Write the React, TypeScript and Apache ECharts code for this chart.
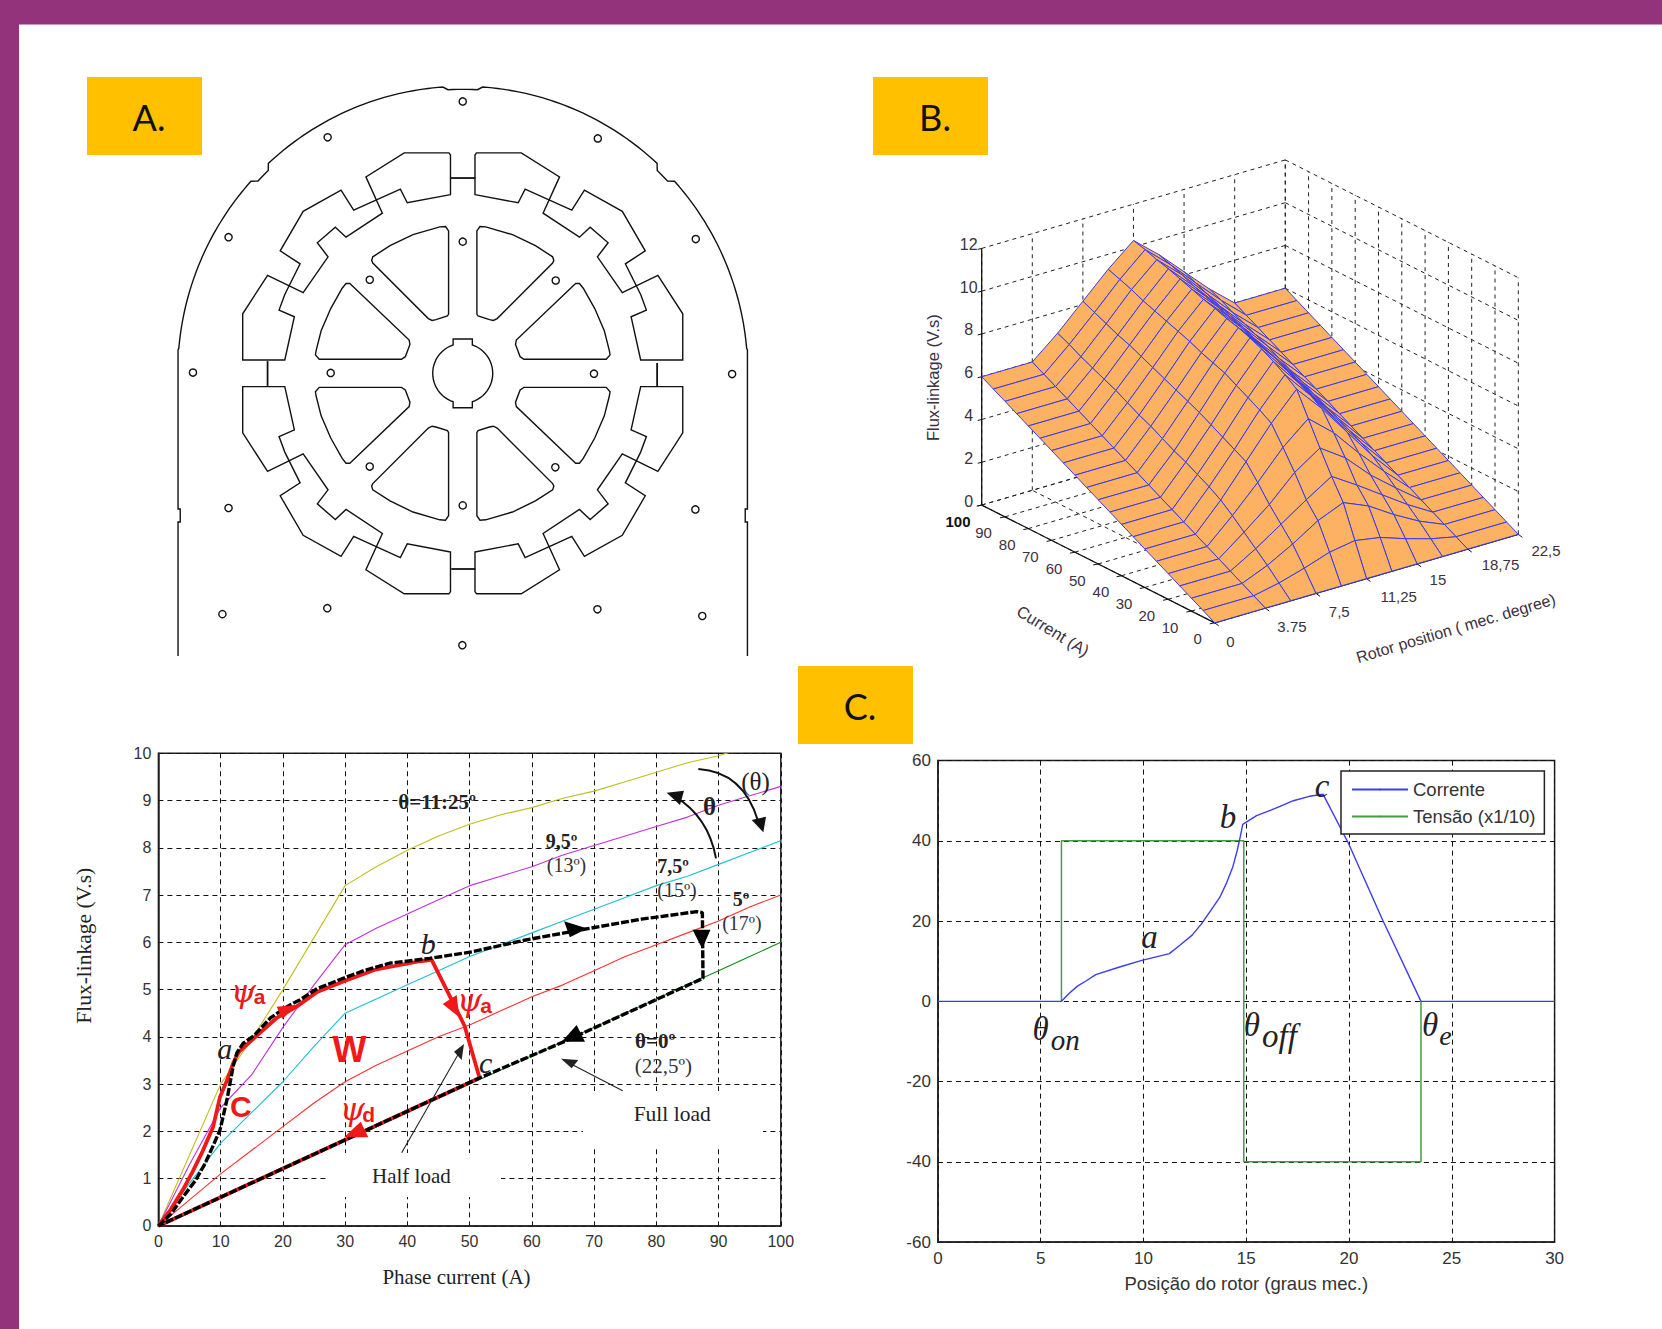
import React, { useEffect, useRef } from "react";
import * as echarts from "echarts";

// ---------- DATA ----------
const currentTicks = [0, 5, 10, 15, 20, 25, 30, 35, 40, 45, 50, 55, 60, 65, 70, 75, 80, 85, 90, 95, 100];
const flux0 = [0, 0.3, 0.6, 0.9, 1.2, 1.5, 1.8, 2.1, 2.4, 2.7, 3, 3.3, 3.6, 3.9, 4.2, 4.5, 4.8, 5.1, 5.4, 5.7, 6];
const flux5 = [0, 0.55, 1.1, 1.6, 2.1, 2.6, 3.05, 3.4, 3.7, 4, 4.25, 4.55, 4.85, 5.1, 5.4, 5.7, 5.95, 6.2, 6.45, 6.75, 7];
const flux75 = [0, 0.9, 1.75, 2.4, 3.05, 3.8, 4.5, 4.8, 5.1, 5.4, 5.7, 5.95, 6.2, 6.45, 6.7, 6.95, 7.2, 7.4, 7.65, 7.9, 8.15];
const flux95 = [0, 1.3, 2.5, 3.2, 4.2, 5.1, 5.95, 6.3, 6.6, 6.9, 7.2, 7.4, 7.6, 7.85, 8.05, 8.25, 8.45, 8.65, 8.9, 9.1, 9.3];
const flux1125 = [0, 1.5, 3, 3.95, 5, 6.1, 7.2, 7.6, 7.95, 8.25, 8.5, 8.7, 8.85, 9.05, 9.2, 9.4, 9.6, 9.8, 9.95, 10.15, 10.3];
const surfaceThetas = [0, 3.75, 5.625, 7.5, 9.375, 11.25, 13.125, 15, 16.875, 18.75, 22.5];
const surfaceColumns = [flux0, flux0, flux5, flux75, flux95, flux1125, flux95, flux75, flux5, flux0, flux0];

const fullLoadLoop = [[0, 0], [2, 0.25], [4, 0.62], [6, 0.97], [7.5, 1.32], [8.8, 1.7], [9.9, 2.03], [11, 2.66], [12, 3.37], [12.6, 3.66], [13.6, 3.86], [15.3, 4.02], [18, 4.4], [20.8, 4.65], [22.7, 4.78], [25.5, 5.02], [29.7, 5.24], [33, 5.4], [37.2, 5.56], [43.6, 5.66], [50.4, 5.8], [59, 6.05], [69, 6.29], [77.6, 6.49], [86.5, 6.65], [87.4, 6.63], [87.5, 5.24], [65.2, 3.9], [51.6, 3.13], [0, 0]];
const halfLoadLoop = [[0, 0], [2, 0.35], [4, 0.78], [5.5, 1.15], [7, 1.55], [8.8, 2.1], [9.9, 2.73], [11.06, 3.09], [12, 3.44], [12.6, 3.6], [13, 3.69], [16, 4.05], [19, 4.4], [22.2, 4.64], [25.5, 4.95], [29.7, 5.17], [34.8, 5.42], [42, 5.6], [43.9, 5.63], [48, 4.55], [49.2, 4.23], [51.6, 3.13], [0, 0]];

const rotorPosition = [0, 6.01, 6.39, 6.79, 7.24, 7.68, 8.8, 9.92, 11.26, 11.8, 12.37, 12.82, 13.27, 13.71, 14.05, 14.34, 14.56, 14.72, 14.83, 15.5, 16.17, 16.73, 17.29, 18.07, 18.74, 19.97, 21.64, 23.5, 30];
const corrente = [0, 0, 2, 3.8, 5.2, 6.65, 8.5, 10.2, 11.9, 14.1, 16.5, 19.3, 22.6, 25.9, 29.6, 33.4, 37.6, 41.3, 44.1, 46.3, 47.6, 48.8, 50, 51.1, 51.6, 39.4, 20.2, 0, 0];
const tensao = [[6.01, 0], [6.01, 40], [14.88, 40], [14.88, -40], [23.5, -40], [23.5, 0]];

const surfaceThetaLabels = [["0", 740, 1455], ["3.75", 878, 1412], ["7,5", 984, 1368], ["11,25", 1117, 1325], ["15", 1205, 1277], ["18,75", 1345, 1232], ["22,5", 1447, 1192]];
const surfaceCurrentLabels = [["90", 187, 1140], ["80", 240, 1175], ["70", 292, 1210], ["60", 345, 1243], ["50", 397, 1278], ["40", 450, 1312], ["30", 502, 1345], ["20", 553, 1380], ["10", 605, 1415], ["0", 667, 1448]];
const surfaceFluxTicks = [0, 2, 4, 6, 8, 10, 12];
const floorThetaTicks = [0, 3.75, 7.5, 11.25, 15, 18.75, 22.5];
const floorCurrentTicks = [0, 10, 20, 30, 40, 50, 60, 70, 80, 90, 100];

// ---------- HELPERS ----------
const map = (cx: number, cy: number, cw: number, ch: number) => (px: number, py: number): number[] => [cx + (px * cw) / 1568, cy + (py * ch) / 1568];
const c1 = map(60, 720, 760, 600);
const c2 = map(880, 730, 720, 590);
const c3 = map(900, 140, 700, 540);
const c4 = map(170, 80, 600, 580);
const z5 = (px: number, py: number) => [340 + px / 3, 1000 + py / 3];
const z6 = (px: number, py: number) => [200 + px / 3, 900 + py / 3];
const z7 = (px: number, py: number) => [620 + px / 3, 750 + py / 3];

const SERIF = "Liberation Serif";
const SANS = "Liberation Sans";

const T = (text: string, p: number[], size: number, o: any = {}) => ({
  type: "text", x: p[0], y: p[1], rotation: o.rot || 0, z: 10, silent: true,
  style: {
    text, fontSize: size, fontFamily: o.family || SERIF, fontWeight: o.weight || "normal", fontStyle: o.style || "normal",
    fill: o.color || "#222", align: o.align || "center", verticalAlign: "middle",
  },
});
const poly = (pts: number[][], fill: string) => ({ type: "polygon", z: 10, silent: true, shape: { points: pts }, style: { fill, stroke: "none" } });
const L = (a: number[], b: number[], o: any = {}) => ({
  type: "line", z: o.z ?? 0, silent: true, shape: { x1: a[0], y1: a[1], x2: b[0], y2: b[1] },
  style: { stroke: o.color || "#111", lineWidth: o.w || 1, lineDash: o.dash },
});

// Panel B projection
const P3 = (theta: number, current: number, flux: number) =>
  c3(705 + (theta / 22.5) * 680 - (current / 100) * 522, 1402 - (theta / 22.5) * 257 - (current / 100) * 342 - flux * 62.1);

// ---------- PANEL A GEOMETRY ----------
const poleOutline = [[-32, -483], [-145, -461], [-163, -498], [-285, -441], [-318, -495], [-417, -438], [-477, -331], [-425, -296], [-465, -213], [-480, -171], [-440, -153], [-465, -36], [-575, -36], [-575, -161], [-510, -265], [-417, -218], [-352, -315], [-380, -353], [-333, -395], [-305, -368], [-210, -433], [-253, -531], [-153, -596], [-36, -596], [-32, -590]];
const windowA = [[-37, -160], [-37, -385], [-45, -397], [-60, -396], [-130, -375], [-190, -345], [-235, -315], [-238, -305], [-235, -298], [-90, -148], [-80, -143], [-70, -145], [-40, -155]];
const windowB = [[-295, -243], [-140, -90], [-138, -78], [-150, -45], [-160, -38], [-375, -38], [-385, -50], [-383, -62], [-370, -115], [-345, -175], [-315, -230], [-305, -243]];
const holes = [[765, 58], [412, 155], [1118, 158], [153, 425], [1374, 430], [60, 791], [1469, 795], [420, 792], [1108, 794], [765, 437], [522, 540], [1008, 542], [522, 1045], [1007, 1047], [765, 1150], [153, 1157], [1373, 1161], [411, 1428], [1117, 1431], [137, 1444], [1391, 1449], [764, 1528]];

function panelA(): any[] {
  const out: any[] = [];
  const stroke = { stroke: "#111", lineWidth: 1.4, fill: "none" };
  const rel = (p: number[], sx: number, sy: number) => c4(765 + p[0] * sx, 793 + p[1] * sy);
  const signs = [[1, 1], [-1, 1], [1, -1], [-1, -1]];
  for (const [sx, sy] of signs) {
    for (const shape of [poleOutline, windowA, windowB]) {
      out.push({ type: "polygon", silent: true, shape: { points: shape.map((p) => rel(p, sx, sy)) }, style: stroke });
    }
  }
  out.push(L(c4(733, 265), c4(798, 265), { w: 1.8 }));
  out.push(L(c4(735, 1322), c4(798, 1322), { w: 1.8 }));
  out.push(L(c4(255, 760), c4(255, 827), { w: 1.8 }));
  out.push(L(c4(1273, 765), c4(1273, 830), { w: 1.8 }));
  for (const h of holes) {
    const p = c4(h[0], h[1]);
    out.push({ type: "circle", silent: true, shape: { cx: p[0], cy: p[1], r: 3.6 }, style: stroke });
  }
  // Shaft with its two keyways
  const [hx, hy] = c4(765, 793);
  const r = 30;
  const a0 = Math.asin(9.6 / r);
  const shaft: number[][] = [];
  const ring = (from: number, to: number) => {
    for (let k = 0; k <= 24; k++) {
      const a = from + ((to - from) * k) / 24;
      shaft.push([hx + r * Math.sin(a), hy - r * Math.cos(a)]);
    }
  };
  shaft.push([hx - 9.6, hy - 34.4], [hx + 9.6, hy - 34.4]);
  ring(a0, Math.PI - a0);
  shaft.push([hx + 9.6, hy + 34.4], [hx - 9.6, hy + 34.4]);
  ring(Math.PI + a0, 2 * Math.PI - a0);
  out.push({ type: "polygon", silent: true, shape: { points: shaft }, style: stroke });
  // Outer frame
  const R = 285;
  const Ry = 287;
  const frame: number[][] = [[hx - R + 0.3, 656], [hx - R + 0.3, 522], [hx - R + 2.5, 522], [hx - R + 2.5, 509], [hx - R + 0.3, 509], [hx - R + 0.3, 350]];
  for (let d = 175; d >= 5; d -= 1) {
    const notch = (Math.abs(d - 90) <= 3 ? 3 : 0) + (Math.abs(d - 135.5) <= 1.5 ? 5 : 0) + (Math.abs(d - 44.5) <= 1.5 ? 5 : 0);
    const a = (d * Math.PI) / 180;
    frame.push([hx + (R - notch) * Math.cos(a), hy - (Ry - notch) * Math.sin(a)]);
  }
  frame.push([hx + R - 0.3, 350], [hx + R - 0.3, 509], [hx + R - 2.5, 509], [hx + R - 2.5, 522], [hx + R - 0.3, 522], [hx + R - 0.3, 656]);
  out.push({ type: "polyline", silent: true, shape: { points: frame }, style: { stroke: "#111", lineWidth: 1.4, fill: "none" } });
  return out;
}

// ---------- PANEL B FRAME ----------
function panelB(): any[] {
  const out: any[] = [];
  const dash = { dash: [4, 4], color: "#222", w: 1 };
  for (const z of surfaceFluxTicks) {
    out.push(L(P3(0, 100, z), P3(22.5, 100, z), dash));
    out.push(L(P3(22.5, 100, z), P3(22.5, 0, z), dash));
  }
  for (const t of floorThetaTicks) {
    out.push(L(P3(t, 100, 0), P3(t, 100, 12), dash));
    out.push(L(P3(t, 0, 0), P3(t, 100, 0), dash));
  }
  for (const i of floorCurrentTicks) {
    out.push(L(P3(22.5, i, 0), P3(22.5, i, 12), dash));
    out.push(L(P3(0, i, 0), P3(22.5, i, 0), dash));
  }
  out.push(L(P3(0, 100, 0), P3(0, 100, 12), { w: 1.3 }));
  out.push(L(P3(0, 100, 0), P3(0, 0, 0), { w: 1.3 }));
  out.push(L(P3(0, 0, 0), P3(22.5, 0, 0), { w: 1.3 }));
  for (const z of surfaceFluxTicks) {
    const p = P3(0, 100, z);
    out.push(L(p, [p[0] - 4, p[1] + 1], { w: 1 }));
    out.push(T(String(z), [p[0] - 13, p[1] - 4], 16, { family: SANS, color: "#3d3040" }));
  }
  for (const i of floorCurrentTicks) {
    const p = P3(0, i, 0);
    out.push(L(p, [p[0] - 5, p[1] + 1], { w: 1 }));
  }
  for (const t of floorThetaTicks) {
    const p = P3(t, 0, 0);
    out.push(L(p, [p[0] + 4, p[1] + 3], { w: 1 }));
  }
  for (const [s, x, y] of surfaceThetaLabels as any[]) out.push(T(s, c3(x, y), 15, { family: SANS, color: "#3d3040" }));
  for (const [s, x, y] of surfaceCurrentLabels as any[]) out.push(T(s, c3(x, y), 15, { family: SANS, color: "#3d3040" }));
  out.push(T("100", c3(130, 1108), 15, { family: SANS, color: "#111", weight: "bold" }));
  out.push(T("Flux-linkage (V.s)", c3(75, 690), 16.5, { family: SANS, color: "#3d3040", rot: Math.PI / 2 }));
  out.push(T("Current (A)", c3(343, 1425), 16.5, { family: SANS, color: "#3d3040", rot: -0.55 }));
  out.push(T("Rotor position ( mec. degree)", c3(1245, 1418), 16, { family: SANS, color: "#3d3040", rot: 0.29 }));
  return out;
}

// ---------- ANNOTATIONS ----------
function annotations(): any[] {
  const red = "#f01818";
  const out: any[] = [];
  // Gaps in the left plot's grid round its notes
  out.push({ type: "rect", z: 1, silent: true, shape: { x: 583, y: 1091, width: 180, height: 57 }, style: { fill: "#fff" } });
  out.push({ type: "rect", z: 1, silent: true, shape: { x: 326, y: 1153, width: 175, height: 44 }, style: { fill: "#fff" } });

  out.push(T("Flux-linkage (V.s)", c1(50, 590), 21.5, { rot: Math.PI / 2 }));
  out.push(T("Phase current (A)", c1(818, 1455), 21));
  out.push(T("θ=11:25º", c1(778, 215), 21, { weight: "bold" }));
  out.push(T("9,5º", c1(1035, 315), 20, { weight: "bold" }));
  out.push(T("(13º)", c1(1045, 380), 20, { color: "#333" }));
  out.push(T("7,5º", c1(1265, 382), 20, { weight: "bold" }));
  out.push(T("(15º)", c1(1273, 445), 20, { color: "#333" }));
  out.push(T("5º", c1(1405, 467), 20, { weight: "bold" }));
  out.push(T("(17º)", c1(1407, 530), 20, { color: "#333" }));
  out.push(T("θ=0º", c1(1228, 838), 21, { weight: "bold" }));
  out.push(T("(22,5º)", c1(1245, 905), 21, { color: "#333" }));
  out.push(T("Full load", c1(1263, 1030), 21.5));
  out.push(T("Half load", c1(725, 1192), 21));
  out.push(T("θ", c1(1340, 225), 25, { weight: "bold" }));
  out.push(T("(θ)", c1(1435, 160), 25));
  out.push(T("a", c1(340, 858), 30, { style: "italic" }));
  out.push(T("b", c1(760, 585), 30, { style: "italic" }));
  out.push(T("c", c1(878, 895), 30, { style: "italic" }));
  out.push(T("W", c1(597, 860), 36, { color: red, weight: "bold", family: SANS }));
  out.push(T("C", c1(373, 1010), 30, { color: red, weight: "bold", family: SANS }));
  const psi = (sub: string, x: number, y: number) => {
    out.push(T("ψ", c1(x, y), 32, { color: red, style: "italic", family: "DejaVu Serif" }));
    out.push(T(sub, c1(x + 34, y + 15), 21, { color: red, family: SANS, weight: "bold" }));
  };
  psi("a", 378, 708);
  psi("a", 845, 732);
  psi("d", 603, 1016);

  // Thin pointers
  const thin = { w: 1.1, color: "#222", z: 10 };
  out.push(L(z5(185, 458), z5(362, 150), thin));
  out.push(poly([z5(372, 132), z5(342, 155), z5(365, 180)], "#222"));
  out.push(L(z5(848, 272), z5(680, 185), thin));
  out.push(poly([z5(663, 176), z5(715, 180), z5(695, 205)], "#222"));

  // Load-path arrows
  out.push(poly([z5(665, 125), z5(710, 75), z5(735, 125)], "#000"));
  out.push(poly([c1(1088, 545), c1(1040, 526), c1(1052, 568)], "#000"));
  out.push(poly([c1(1325, 598), c1(1305, 548), c1(1342, 548)], "#000"));
  out.push(poly([z6(293, 314), z6(230, 320), z6(247, 357)], red));
  out.push(poly([z6(778, 352), z6(728, 312), z6(770, 285)], red));
  out.push(poly([z5(12, 412), z5(62, 365), z5(85, 412)], red));

  // Curved arrows of the angle
  const curve = (a: number[], c: number[], b: number[]) => ({
    type: "bezierCurve", z: 10, silent: true,
    shape: { x1: a[0], y1: a[1], x2: b[0], y2: b[1], cpx1: c[0], cpy1: c[1] },
    style: { stroke: "#111", lineWidth: 2, fill: "none" },
  });
  out.push(curve(z7(235, 57), z7(370, 65), z7(415, 215)));
  out.push(poly([z7(430, 247), z7(395, 210), z7(438, 200)], "#111"));
  out.push(curve(z7(288, 325), z7(265, 200), z7(165, 140)));
  out.push(poly([z7(140, 128), z7(192, 122), z7(180, 165)], "#111"));

  // Right plot's notes
  const th = (sub: string, x: number, y: number, sx: number, size: number) => {
    out.push(T("θ", c2(x, y), 33, { style: "italic" }));
    out.push(T(sub, c2(sx, y + 28), size, { style: "italic", align: "left" }));
  };
  th("on", 350, 795, 372, 29);
  th("off", 810, 785, 832, 33);
  th("e", 1198, 785, 1218, 28);
  out.push(T("a", c2(587, 550), 33, { style: "italic" }));
  out.push(T("b", c2(758, 232), 33, { style: "italic" }));
  out.push(T("c", c2(963, 148), 33, { style: "italic" }));
  return out;
}

// ---------- CHROME ----------
function chrome(): any[] {
  const yellow = "#FFC000";
  const badge = (x: number, y: number, s: string) => [
    { type: "rect", silent: true, shape: { x, y, width: 115, height: 78 }, style: { fill: yellow } },
    T(s, [x + 62, y + 40], 36, { family: "Lato", color: "#111" }),
  ];
  return [
    { type: "rect", silent: true, shape: { x: 0, y: 0, width: 1662, height: 24.5 }, style: { fill: "#92337B" } },
    { type: "rect", silent: true, shape: { x: 0, y: 0, width: 19, height: 1329 }, style: { fill: "#92337B" } },
    ...badge(87, 77, "A."),
    ...badge(873, 77, "B."),
    ...badge(798, 666, "C."),
  ];
}

// ---------- SURFACE CELLS, far ones first ----------
const surfaceCells: number[][] = [];
for (let a = surfaceThetas.length - 2; a >= 0; a--) {
  for (let b = currentTicks.length - 2; b >= 0; b--) surfaceCells.push([a, b]);
}

const renderCell = (_: any, api: any) => {
  const a = api.value(0);
  const b = api.value(1);
  const pt = (ia: number, ib: number) => P3(surfaceThetas[ia], currentTicks[ib], surfaceColumns[ia][ib]);
  return {
    type: "polygon",
    shape: { points: [pt(a, b), pt(a + 1, b), pt(a + 1, b + 1), pt(a, b + 1)] },
    style: { fill: "#FDB163", stroke: "#3a3ae6", lineWidth: 1 },
  };
};

export default function App() {
  const ref = useRef<HTMLDivElement>(null);
  useEffect(() => {
    if (!ref.current) return;
    const chart = echarts.init(ref.current, undefined, { renderer: "svg" });
    const zip = (ys: number[]) => currentTicks.map((x, k) => [x, ys[k]]);
    const thin = (name: string, ys: number[], color: string) => ({
      name, type: "line", xAxisIndex: 0, yAxisIndex: 0, symbol: "none", data: zip(ys), lineStyle: { color, width: 1.1 }, z: 2,
    });
    const gridAxis = { type: "value", axisTick: { show: false }, splitLine: { show: true, lineStyle: { color: "#111", width: 1, type: [5, 4] } } };
    const leftLine = { onZero: false, lineStyle: { color: "#222", width: 1.5 } };
    chart.setOption({
      animation: false,
      backgroundColor: "#fff",
      grid: [
        { left: 158.4, top: 753.3, width: 622.4, height: 472.6, show: true, borderColor: "#222", borderWidth: 1.5, backgroundColor: "#fff" },
        { left: 937.9, top: 760.6, width: 616.7, height: 481.5, show: true, borderColor: "#222", borderWidth: 1.5, backgroundColor: "#fff" },
      ],
      xAxis: [
        { ...gridAxis, gridIndex: 0, min: 0, max: 100, interval: 10, axisLine: leftLine, axisLabel: { fontFamily: SANS, fontSize: 16, color: "#333", margin: 8 } },
        { ...gridAxis, gridIndex: 1, min: 0, max: 30, interval: 5, axisLine: leftLine, axisLabel: { fontFamily: SANS, fontSize: 17, color: "#333", margin: 8 }, name: "Posição do rotor (graus mec.)", nameLocation: "middle", nameGap: 32, nameTextStyle: { fontFamily: SANS, fontSize: 18.5, color: "#333" } },
      ],
      yAxis: [
        { ...gridAxis, gridIndex: 0, min: 0, max: 10, interval: 1, axisLine: leftLine, axisLabel: { fontFamily: SANS, fontSize: 16, color: "#333", margin: 7 } },
        { ...gridAxis, gridIndex: 1, min: -60, max: 60, interval: 20, axisLine: leftLine, axisLabel: { fontFamily: SANS, fontSize: 17, color: "#333", margin: 7 } },
      ],
      legend: {
        data: ["Corrente", "Tensão (x1/10)"], orient: "vertical", left: 1341, top: 771, itemWidth: 56, itemHeight: 2, itemGap: 8,
        padding: [9, 9, 8, 10], backgroundColor: "#fff", borderColor: "#222", borderWidth: 1.5, z: 9,
        textStyle: { fontFamily: SANS, fontSize: 18.5, color: "#333" }, selectedMode: false,
      },
      graphic: { elements: [...chrome(), ...panelA(), ...panelB(), ...annotations()] },
      series: [
        thin("θ=11,25º", flux1125, "#bfbf20"),
        thin("θ=9,5º", flux95, "#c030e0"),
        thin("θ=7,5º", flux75, "#20bfcf"),
        thin("θ=5º", flux5, "#ff3030"),
        thin("θ=0º", flux0, "#108a10"),
        { name: "Half load", type: "line", xAxisIndex: 0, yAxisIndex: 0, symbol: "none", data: halfLoadLoop, lineStyle: { color: "#f01818", width: 3.8 }, z: 3 },
        { name: "Full load", type: "line", xAxisIndex: 0, yAxisIndex: 0, symbol: "none", data: fullLoadLoop, lineStyle: { color: "#000", width: 3.4, type: [8, 2] }, z: 4 },
        { name: "Tensão (x1/10)", type: "line", xAxisIndex: 1, yAxisIndex: 1, symbol: "none", data: tensao, itemStyle: { color: "#40a040" }, lineStyle: { color: "#40a040", width: 1.5 }, z: 3 },
        { name: "Corrente", type: "line", xAxisIndex: 1, yAxisIndex: 1, symbol: "none", data: rotorPosition.map((x, k) => [x, corrente[k]]), itemStyle: { color: "#3c3cf0" }, lineStyle: { color: "#3c3cf0", width: 1.4 }, z: 4 },
        { name: "Flux surface", type: "custom", coordinateSystem: "none", renderItem: renderCell, data: surfaceCells, silent: true, z: 2 },
      ],
    });
    return () => chart.dispose();
  }, []);
  return <div ref={ref} style={{ position: "absolute", left: 0, top: 0, width: 1662, height: 1329 }} />;
}
